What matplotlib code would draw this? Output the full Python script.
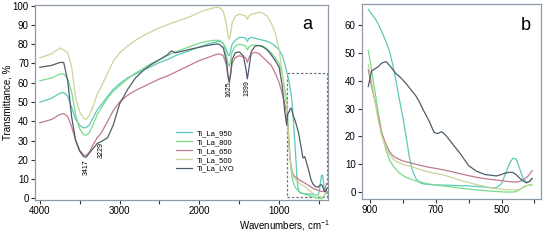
import matplotlib
matplotlib.use('Agg')
import matplotlib.pyplot as plt
from matplotlib.patches import Rectangle

plt.rcParams['font.family'] = ['Liberation Sans', 'DejaVu Sans']
plt.rcParams['mathtext.default'] = 'regular'

# wavenumbers (cm-1), high range shown only in panel a
wn_hi = [4000, 3850, 3750, 3700, 3650, 3600, 3550, 3500, 3450, 3417, 3380, 3330,
         3280, 3229, 3150, 3080, 3000, 2900, 2800, 2700, 2600, 2500, 2400, 2350,
         2300, 2200, 2100, 2000, 1900, 1800, 1750, 1700, 1660, 1640, 1625, 1610,
         1590, 1550, 1500, 1450, 1420, 1399, 1380, 1350, 1300, 1250, 1200, 1150,
         1100, 1050, 1000, 960, 930]

# low range, shown in both panels
wn_lo = [905, 895, 885, 875, 865, 851, 840, 830, 820, 810, 800, 790, 780, 770,
         760, 750, 740, 720, 705, 695, 682, 670, 650, 626, 600, 576, 550, 530,
         515, 500, 490, 475, 465, 455, 445, 435, 424, 415, 407]

t950_hi = [49.9, 52, 54.5, 55, 53, 47, 41, 38, 36.6, 36.8, 38, 42, 46, 48.5, 53,
           56.5, 59.5, 62.5, 64.5, 66.5, 68.5, 70.5, 72, 73, 74, 75.5, 77, 78.5,
           80, 81, 81.5, 80.5, 77, 74.5, 74, 76, 80, 82, 83.5, 83.5, 83, 81.5,
           83, 83.5, 83, 82.5, 82, 81.5, 80.5, 79, 77, 74, 70]
t800_hi = [61, 62.5, 64.5, 64.5, 62, 55, 43, 36, 33, 32.8, 34, 38.5, 43.5, 47,
           52, 55.5, 58.5, 62, 65, 67.5, 70, 72, 74, 75, 76, 77.5, 79, 80.5, 81.5,
           82, 82, 80.5, 74, 69.5, 68.5, 71, 76, 79, 80, 79.5, 79, 77, 78.5, 79.5,
           79.5, 79.3, 79, 77.5, 75.5, 73, 70, 64, 57]
t650_hi = [39.2, 41, 43.5, 44, 42.5, 37, 30, 25, 22.5, 22.3, 24, 28, 31.5, 34,
           40, 45.5, 50, 53.5, 56, 58, 60, 62, 63.5, 64.5, 65.5, 67.5, 69.5, 71.5,
           73, 74.5, 75, 74, 69, 63, 61, 64, 70, 73, 74, 73.5, 73, 70.6, 73, 75,
           75.8, 75, 73, 71, 69, 65, 60, 54, 49]
t500_hi = [72.9, 75, 78, 77, 75.5, 68, 52, 45, 41.5, 41, 43, 48, 54, 58, 65, 71,
           75.5, 79, 82, 84.5, 86.5, 88.5, 90, 91, 91.5, 93, 94.5, 96.5, 98, 99,
           99, 97, 90, 84, 82.5, 85, 91, 94.5, 95.5, 95, 94.5, 93, 94.5, 95.5,
           96, 96.5, 96, 94.5, 91, 86, 77, 65, 55]
tlyo_hi = [68, 69, 70.5, 70.5, 61, 42, 30, 24.5, 21.6, 21.4, 23.5, 26, 28.5,
           29.5, 31.5, 38, 49, 56.5, 62.5, 66.5, 69.5, 72, 74.5, 76.5, 75.5, 76.5,
           77.5, 78.4, 79.3, 80, 80, 78, 71, 63, 60, 64, 72, 75.5, 76, 74, 68,
           62, 67, 76, 79, 79.3, 78.5, 77, 74.5, 71.5, 68, 58, 45]

t950_lo = [65.7, 64, 62.5, 60.5, 58, 54, 50.5, 45.5, 39.5, 33, 27, 20, 12.5, 7.5,
           4.8, 3.5, 3, 2.7, 2.6, 2.6, 2.5, 2.5, 2.4, 2.3, 2.2, 2, 1.8, 1.5, 1.6,
           3, 6, 10.5, 12.2, 11.8, 8.5, 5, 3.5, 3.8, 4.8]
t800_lo = [51, 44, 36.5, 29, 22, 15, 11.5, 9.5, 8, 6.8, 6, 5.3, 4.8, 4.4, 4,
           3.7, 3.4, 2.9, 2.6, 2.4, 2.3, 2.1, 1.8, 1.4, 1.1, 0.8, 0.5, 0.3, 0.2,
           0.1, 0, 0, 0, 0.2, 0.8, 1.8, 2.3, 2.5, 2.5]
t650_lo = [43.9, 38, 33, 27, 21.5, 17, 14.5, 13, 12.3, 11.7, 11.2, 10.9, 10.6,
           10.3, 10, 9.7, 9.4, 8.9, 8.6, 8.4, 8.1, 7.8, 7.3, 6.6, 5.9, 5.3, 4.8,
           4.5, 4.3, 4.1, 3.9, 3.7, 3.6, 3.6, 3.8, 4.3, 5.2, 6.3, 7.7]
t500_lo = [46, 40, 33, 26, 20.5, 16, 13.5, 12, 11, 10.5, 10, 9.6, 9.3, 9, 8.6,
           8.2, 7.8, 7.2, 6.8, 6.6, 6.3, 5.9, 5.2, 4.2, 3.4, 2.7, 2, 1.5, 1.2, 1,
           0.9, 0.8, 0.8, 0.8, 1, 1.5, 2.2, 2.6, 2.8]
tlyo_lo = [37.9, 43.5, 44.3, 45, 46.3, 46.9, 45.5, 44, 42.5, 41.5, 40.3, 39,
           37.5, 36, 34.5, 32.5, 30, 25.5, 21.5, 21, 21.7, 20.5, 17.5, 13.9, 9.5,
           7.5, 6.3, 6, 5.8, 6.3, 6.8, 7.1, 7, 6.2, 5, 4, 3.3, 3.8, 4.9]

labels = ['Ti_La_950', 'Ti_La_800', 'Ti_La_650', 'Ti_La_500', 'Ti_La_LYO']
colors = ['#5ec8ba', '#78dc8c', '#c27a8c', '#c8d69a', '#4f5d6b']
hi = [t950_hi, t800_hi, t650_hi, t500_hi, tlyo_hi]
lo = [t950_lo, t800_lo, t650_lo, t500_lo, tlyo_lo]

peaks = [(3417, 16, '3417'), (3229, 25, '3229'), (1625, 56.5, '1625'), (1399, 57, '1399')]

fig = plt.figure(figsize=(5.43, 2.41), dpi=100)
ax_a = fig.add_axes([35/543, 1-200/241, 293/543, 195/241])
ax_b = fig.add_axes([362/543, 1-199/241, 179/543, 195/241])

for lab, c, yh, yl in zip(labels, colors, hi, lo):
    ax_a.plot(wn_hi + wn_lo, yh + yl, color=c, lw=0.9, label=lab)
    ax_b.plot(wn_lo, yl, color=c, lw=0.9)

for x, y, s in peaks:
    ax_a.text(x, y, s, rotation=90, ha='center', va='center', fontsize=5)

ax_a.add_patch(Rectangle((905, 1), 400 - 905, 64, fill=False, ls=(0, (2, 1.5)),
                         lw=0.9, ec='#6f7880'))

ax_a.set_xlim(4060, 388)
ax_a.set_ylim(-0.8, 100.3)
ax_a.set_xticks([4000, 3000, 2000, 1000])
ax_a.set_xticks([3500, 2500, 1500, 500], minor=True)
ax_a.set_yticks(range(0, 101, 10))

ax_b.set_xlim(924, 380)
ax_b.set_ylim(-2.5, 67.6)
ax_b.set_xticks([900, 700, 500])
ax_b.set_xticks([800, 600, 400], minor=True)
ax_b.set_yticks(range(0, 61, 10))

for ax in (ax_a, ax_b):
    for sp in ax.spines.values():
        sp.set_color('#8c99a6')
        sp.set_linewidth(0.9)
    ax.tick_params(which='both', direction='out', length=3, width=0.8,
                   color='#333333', labelsize=7, pad=1.5)

ax_a.legend(loc='upper left', bbox_to_anchor=(0.48, 0.36), frameon=False,
            fontsize=5.5, handlelength=2.2, labelspacing=0.2, borderpad=0,
            borderaxespad=0, handletextpad=0.6)

ax_a.text(0.93, 0.9, 'a', transform=ax_a.transAxes, fontsize=13, ha='center', va='center')
ax_b.text(0.915, 0.89, 'b', transform=ax_b.transAxes, fontsize=13, ha='center', va='center')

fig.text(8/543, 1-102/241, 'Transmittance, %', rotation=90, ha='center', va='center', fontsize=7)
fig.text(284/543, 1-226/241, 'Wavenumbers, cm$^{-1}$', ha='center', va='center', fontsize=7)

fig.savefig('out.png', dpi=100)
